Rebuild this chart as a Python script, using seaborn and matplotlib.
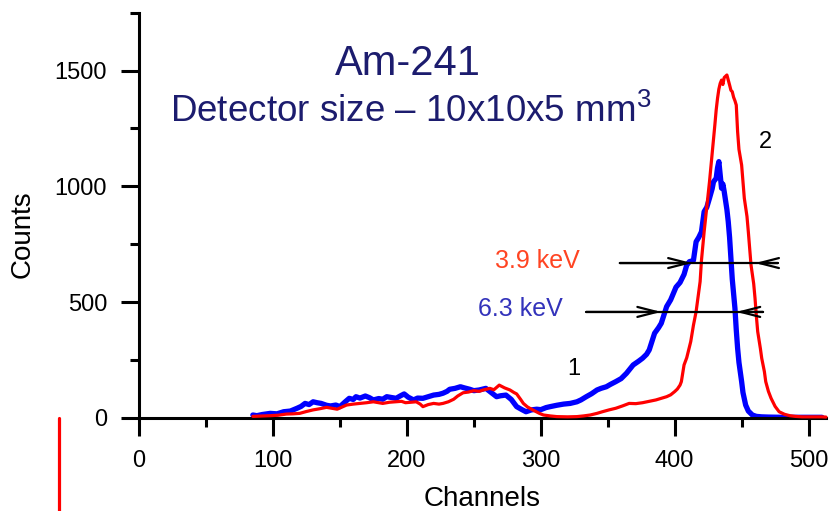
import matplotlib
matplotlib.use("Agg")
import matplotlib.pyplot as plt
import seaborn as sns
import pandas as pd

# ---- data ----
blue_ch = [85, 88, 92, 98, 103, 108, 113, 118, 121, 124, 127, 130, 133, 136, 140, 143, 147, 150,
           154, 157, 160, 162, 165, 169, 172, 175, 179, 182, 185, 189, 192, 195, 198, 201, 205,
           208, 212, 216, 220, 224, 227, 230, 232, 236, 240, 243, 247, 250, 254, 257, 259, 263,
           267, 270, 274, 278, 282, 286, 289, 293, 297, 300, 304, 307, 312, 317, 322, 327, 330,
           334, 338, 342, 345, 349, 352, 356, 360, 364, 367, 369, 373, 376, 379, 381, 383, 385,
           388, 390, 392, 394, 397, 399, 401, 404, 407, 409, 411, 414, 416, 418, 420, 422, 424,
           426, 428, 429, 431, 432, 433, 434, 435, 436, 437, 439, 440, 441, 442, 443, 445, 446,
           447, 448, 450, 451, 453, 455, 458, 461, 465, 470, 480, 490, 500, 510]
blue_counts = [13, 10, 15, 20, 18, 27, 30, 42, 50, 63, 58, 70, 66, 63, 55, 52, 56, 49,
               70, 85, 80, 92, 86, 95, 88, 78, 84, 81, 92, 88, 85, 95, 104, 90, 78,
               86, 85, 92, 99, 102, 107, 115, 124, 128, 135, 130, 124, 118, 121, 125, 128, 110,
               92, 96, 99, 80, 49, 36, 27, 35, 38, 36, 45, 49, 55, 60, 63, 70, 78,
               92, 105, 121, 128, 135, 145, 157, 170, 193, 215, 229, 245, 258, 275, 294, 330, 366,
               390, 409, 445, 481, 510, 538, 565, 585, 620, 660, 675, 680, 761, 780, 804, 891, 910,
               949, 990, 1020, 1035, 1080, 1107, 1050, 992, 1010, 977, 900, 848, 780, 690, 600, 474, 380,
               301, 240, 157, 110, 56, 30, 13, 7, 5, 4, 3, 3, 3, 3]

red_ch = [85, 90, 98, 104, 110, 115, 120, 125, 130, 135, 140, 144, 148, 152, 155, 160, 165, 170,
          175, 179, 182, 187, 192, 196, 199, 203, 207, 210, 212, 216, 220, 224, 227, 231, 235,
          238, 242, 246, 250, 254, 257, 260, 262, 265, 269, 273, 277, 280, 282, 285, 287, 290,
          294, 297, 299, 302, 307, 312, 320, 327, 332, 337, 342, 346, 351, 356, 361, 366, 371,
          376, 381, 386, 390, 394, 397, 400, 402, 404, 405, 407, 409, 412, 414, 416, 419, 420,
          422, 424, 426, 428, 430, 431, 432, 433, 434, 435, 436, 437, 439, 440, 441, 442, 443,
          444, 445, 446, 447, 448, 450, 451, 452, 454, 455, 456, 457, 459, 460, 461, 462, 464,
          465, 467, 468, 470, 472, 475, 478, 482, 486, 490, 495, 503, 510, 513]
red_counts = [7, 8, 10, 12, 17, 18, 20, 28, 35, 40, 46, 42, 38, 48, 56, 60, 63, 66,
              70, 66, 63, 68, 70, 72, 66, 68, 70, 60, 49, 58, 63, 60, 63, 70, 81,
              95, 109, 112, 118, 115, 121, 125, 128, 122, 142, 130, 121, 110, 104, 80, 63, 48,
              35, 26, 20, 13, 9, 6, 5, 6, 9, 13, 20, 27, 35, 42, 52, 63, 62,
              66, 72, 78, 85, 92, 100, 114, 125, 142, 157, 229, 260, 330, 400, 459, 589, 680,
              804, 910, 1020, 1140, 1265, 1330, 1380, 1420, 1445, 1459, 1440, 1470, 1481, 1460, 1438, 1415, 1409,
              1385, 1370, 1351, 1236, 1160, 1092, 1020, 949, 870, 804, 730, 661, 580, 517, 440, 373, 300,
              258, 200, 157, 115, 85, 50, 27, 16, 10, 7, 5, 5, 5, 4]

# stray red mark below the axes (left of the origin)
spike_ch = [-60, -60]
spike_counts = [0, -400]

# FWHM markers
fwhm_y = [669, 458]
fwhm_x0 = [359, 334]
fwhm_x1 = [477, 466]
fwhm_tip_l = [413, 390]
fwhm_tip_r = [460, 446]
fwhm_labels = ["3.9 keV", "6.3 keV"]

x_ticks = [0, 100, 200, 300, 400, 500]
y_ticks = [0, 500, 1000, 1500]

# ---- plotting ----
sns.set_style("ticks")
plt.rcParams["font.family"] = ["Liberation Sans", "DejaVu Sans"]
plt.rcParams["mathtext.fontset"] = "custom"
plt.rcParams["mathtext.rm"] = "Liberation Sans"

fig = plt.figure(figsize=(8.35, 5.11), dpi=100)
ax = fig.add_axes([139 / 835, 1 - 418 / 511, 687 / 835, (418 - 12.7) / 511])

df_red = pd.DataFrame({"Channels": red_ch, "Counts": red_counts})
df_blue = pd.DataFrame({"Channels": blue_ch, "Counts": blue_counts})

sns.lineplot(data=df_red, x="Channels", y="Counts", ax=ax, color="#ff0000",
             linewidth=2.3, estimator=None, sort=False, clip_on=False, zorder=3)
sns.lineplot(data=df_blue, x="Channels", y="Counts", ax=ax, color="#0000ff",
             linewidth=3.8, estimator=None, sort=False, clip_on=False, zorder=2)
ax.plot(spike_ch, spike_counts, color="#ff0000", linewidth=2.3, clip_on=False)

ax.set_xlim(0, 513)
ax.set_ylim(0, 1750)

for spine in ["top", "right"]:
    ax.spines[spine].set_visible(False)
for spine in ["left", "bottom"]:
    ax.spines[spine].set_linewidth(2.2)
    ax.spines[spine].set_color("black")

ax.set_xticks(x_ticks)
ax.set_yticks(y_ticks)
ax.set_xticks([50, 150, 250, 350, 450], minor=True)
ax.set_yticks([250, 750, 1250, 1750], minor=True)
ax.tick_params(which="major", direction="out", length=13, width=2.2, labelsize=17,
               color="black", labelcolor="black", pad=10)
ax.tick_params(which="minor", direction="out", length=6.5, width=2.2, color="black")

ax.set_xlabel("Channels", fontsize=20, color="black")
ax.set_ylabel("Counts", fontsize=20, color="black")
ax.xaxis.set_label_coords(0.5, -0.168)
ax.yaxis.set_label_coords(-0.15, 0.454)

navy = "#1c1c6e"
ax.text(200.7, 1481, "Am-241", fontsize=30, color=navy, ha="center", va="baseline")
ax.text(203, 1278, "Detector size \u2013 10x10x5 mm$^{\\mathregular{3}}$", fontsize=26.5,
        color=navy, ha="center", va="baseline")

label_colors = ["#ff4422", "#3333bb"]
label_x = [265.7, 253]
label_y = [648, 440]
for i in range(2):
    ax.plot([fwhm_x0[i], fwhm_x1[i]], [fwhm_y[i], fwhm_y[i]], color="black", lw=1.6, zorder=5)
    ax.annotate("", xy=(fwhm_tip_l[i], fwhm_y[i]), xytext=(fwhm_x0[i], fwhm_y[i]),
                arrowprops=dict(arrowstyle="->,head_length=14,head_width=3.6",
                                mutation_scale=1, lw=1.6, color="black",
                                shrinkA=0, shrinkB=0), zorder=5)
    ax.annotate("", xy=(fwhm_tip_r[i], fwhm_y[i]), xytext=(fwhm_x1[i], fwhm_y[i]),
                arrowprops=dict(arrowstyle="->,head_length=14,head_width=3.6",
                                mutation_scale=1, lw=1.6, color="black",
                                shrinkA=0, shrinkB=0), zorder=5)
    ax.text(label_x[i], label_y[i], fwhm_labels[i], fontsize=18, color=label_colors[i],
            ha="left", va="baseline")

ax.text(325, 186, "1", fontsize=17, color="black", ha="center", va="baseline")
ax.text(468, 1166, "2", fontsize=17, color="black", ha="center", va="baseline")

fig.savefig("out.png", dpi=100)
